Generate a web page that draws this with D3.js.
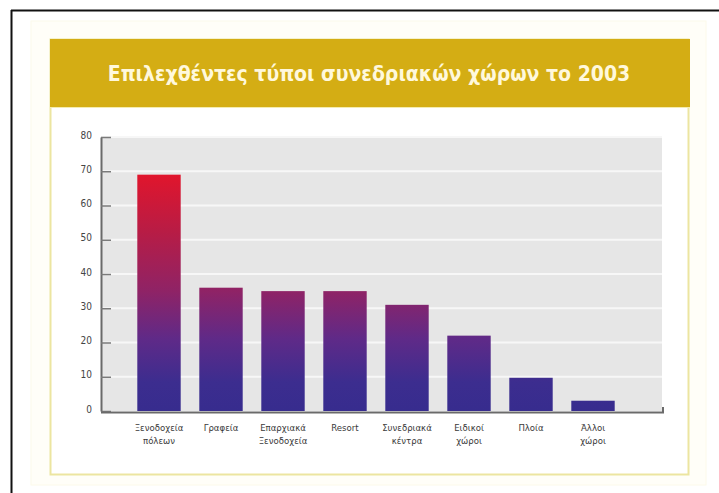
<!DOCTYPE html>
<html>
<head>
<meta charset="utf-8">
<script src="https://cdn.jsdelivr.net/npm/d3@7"></script>
<style>
  html, body { margin: 0; padding: 0; background: #ffffff; }
  svg { display: block; }
  .cond { font-family: "Liberation Sans Narrow", "DejaVu Sans Condensed", "Roboto Condensed", "Liberation Sans", sans-serif; font-stretch: condensed; }
</style>
</head>
<body>
<svg id="chart" width="719" height="493"></svg>
<script>
const title = "Επιλεχθέντες τύποι συνεδριακών χώρων το 2003";
const categories = [
  ["Ξενοδοχεία", "πόλεων"],
  ["Γραφεία"],
  ["Επαρχιακά", "Ξενοδοχεία"],
  ["Resort"],
  ["Συνεδριακά", "κέντρα"],
  ["Ειδικοί", "χώροι"],
  ["Πλοία"],
  ["Άλλοι", "χώροι"]
];
const values = [69, 36, 35, 35, 31, 22, 9.7, 3];
const yTicks = [0, 10, 20, 30, 40, 50, 60, 70, 80];

const svg = d3.select("#chart");

// outer page frame (top and left black lines)
svg.append("rect").attr("x", 31).attr("y", 21).attr("width", 675).attr("height", 464)
  .attr("fill", "#fffef8").attr("stroke", "#fcfaea").attr("stroke-width", 1);
svg.append("line").attr("x1", 11).attr("x2", 719).attr("y1", 10.5).attr("y2", 10.5)
  .attr("stroke", "#111").attr("stroke-width", 2);
svg.append("line").attr("x1", 11.5).attr("x2", 11.5).attr("y1", 10).attr("y2", 493)
  .attr("stroke", "#111").attr("stroke-width", 2);

// panel
svg.append("rect").attr("x", 50.5).attr("y", 39.5).attr("width", 638).attr("height", 435)
  .attr("fill", "#ffffff").attr("stroke", "#ece5a0").attr("stroke-width", 2);
// title band
svg.append("rect").attr("x", 50).attr("y", 39).attr("width", 640).attr("height", 68)
  .attr("fill", "#d4ad14");
svg.append("line").attr("x1", 50).attr("x2", 690).attr("y1", 107.5).attr("y2", 107.5)
  .attr("stroke", "#f4ecb0").attr("stroke-width", 1);
const titleText = svg.append("text").attr("class", "cond")
  .attr("x", 369).attr("y", 81)
  .attr("text-anchor", "middle")
  .attr("font-size", 24).attr("font-weight", "bold")
  .attr("fill", "#fff8dc")
  .text(title);
// shrink font size so the title fits the reference width
let fs = 24;
while (titleText.node().getComputedTextLength() > 526 && fs > 10) {
  fs -= 0.5;
  titleText.attr("font-size", fs);
}

// scales
const x = d3.scaleBand()
  .domain(d3.range(categories.length))
  .range([128, 624])
  .paddingInner(0.3)
  .paddingOuter(0.15);
const y = d3.scaleLinear().domain([0, 80]).range([411, 137]);

const plotLeft = 101, plotRight = 662;

// gray plot background
svg.append("rect").attr("x", plotLeft).attr("y", y(80))
  .attr("width", plotRight - plotLeft).attr("height", y(0) - y(80))
  .attr("fill", "#e6e6e6");

// white gridlines
svg.append("g").selectAll("line")
  .data(yTicks.filter(d => d > 0))
  .join("line")
  .attr("x1", plotLeft).attr("x2", plotRight)
  .attr("y1", d => y(d)).attr("y2", d => y(d))
  .attr("stroke", "#f7f7f7").attr("stroke-width", 2);

// gradient
const defs = svg.append("defs");
const grad = defs.append("linearGradient")
  .attr("id", "barGrad")
  .attr("gradientUnits", "userSpaceOnUse")
  .attr("x1", 0).attr("x2", 0)
  .attr("y1", y(0)).attr("y2", y(70));
[
  [0, "#372c8e"],
  [0.12, "#3c2d8f"],
  [0.3, "#5f2a88"],
  [0.5, "#8f2366"],
  [0.75, "#b81c45"],
  [1, "#e3152b"]
].forEach(([o, c]) => grad.append("stop").attr("offset", o).attr("stop-color", c));

// bars
svg.append("g").selectAll("rect")
  .data(values)
  .join("rect")
  .attr("x", (d, i) => x(i))
  .attr("width", x.bandwidth())
  .attr("y", d => y(d))
  .attr("height", d => y(0) - y(d))
  .attr("fill", "url(#barGrad)");

// y axis
const yAxis = svg.append("g")
  .attr("transform", `translate(${plotLeft},0)`)
  .call(d3.axisLeft(y).tickValues(yTicks).tickSizeInner(-10).tickSizeOuter(0).tickPadding(9));
yAxis.select(".domain").attr("stroke", "#6a6a6a").attr("stroke-width", 2);
yAxis.selectAll(".tick line").attr("stroke", "#7a7a7a").attr("stroke-width", 1.5);
yAxis.selectAll(".tick text")
  .attr("class", "cond")
  .attr("font-size", 10).attr("fill", "#444").attr("dy", "0.1em");

// x axis line
svg.append("path")
  .attr("d", `M${plotLeft},${y(0) + 1.5}H${plotRight + 1}V${y(0) - 4}`)
  .attr("fill", "none").attr("stroke", "#6a6a6a").attr("stroke-width", 2);

// category labels
const labels = svg.append("g").selectAll("text")
  .data(categories)
  .join("text")
  .attr("class", "cond")
  .attr("x", (d, i) => x(i) + x.bandwidth() / 2)
  .attr("y", 431)
  .attr("text-anchor", "middle")
  .attr("font-size", 9.5)
  .attr("fill", "#3a3a3a");
labels.each(function(d) {
  const t = d3.select(this);
  d.forEach((line, k) => {
    t.append("tspan")
      .attr("x", t.attr("x"))
      .attr("dy", k === 0 ? 0 : 13)
      .text(line);
  });
});
</script>
</body>
</html>
